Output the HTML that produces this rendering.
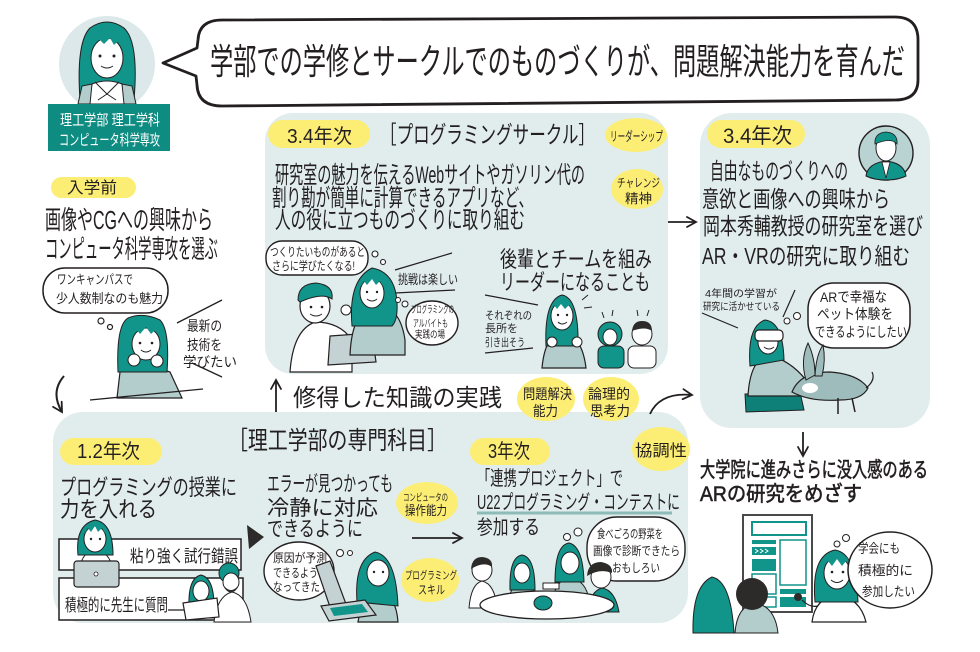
<!DOCTYPE html>
<html><head><meta charset="utf-8">
<style>
html,body{margin:0;padding:0;background:#fff;}
svg{display:block;}
text{font-family:"Liberation Sans","Noto Sans CJK JP",sans-serif;fill:#231f20;}
.w text{fill:#fff;}
</style></head><body>
<svg width="980" height="652" viewBox="0 0 980 652" xmlns="http://www.w3.org/2000/svg">
<defs>
<marker id="ah" viewBox="0 0 12 12" refX="10" refY="6" markerWidth="12" markerHeight="12" markerUnits="userSpaceOnUse" orient="auto">
<path d="M1 1 L10 6 L1 11" fill="none" stroke="#231f20" stroke-width="1.8" stroke-linecap="round"/>
</marker>
</defs>
<rect width="980" height="652" fill="#fff"/>

<!-- Panels -->
<rect x="265" y="113" width="403" height="261" rx="28" fill="#e1eded"/>
<rect x="700" y="113" width="230" height="315" rx="32" fill="#e1eded"/>
<rect x="53" y="412" width="635" height="211" rx="30" fill="#e1eded"/>

<!-- Avatar -->
<circle cx="107" cy="64" r="48" fill="#dce8e9"/>
<path d="M80 100 Q76 42 90 28 Q107 16 124 28 Q139 42 134 100 Z" fill="#11948a" stroke="#231f20" stroke-width="1"/>
<path d="M88 104 L92 84 Q107 78 122 84 L126 104 Z" fill="#fff" stroke="#231f20" stroke-width="1"/>
<path d="M78 104 L82 86 L92 84 L90 104 Z M136 104 L132 86 L122 84 L124 104 Z" fill="#b2cdcc" stroke="#231f20" stroke-width="1"/>
<path d="M95 82 L107 94 L119 82 M107 94 L98 100 M107 94 L116 100" fill="none" stroke="#231f20" stroke-width="1"/>
<ellipse cx="107" cy="58" rx="16" ry="20" fill="#fff" stroke="#231f20" stroke-width="1"/>
<path d="M91 46 Q92 30 107 29 Q122 30 123 46 L119 40 L114 45 L110 38 L104 44 L99 39 L94 45 Z" fill="#11948a"/>
<circle cx="100" cy="56" r="1.5" fill="#231f20"/><circle cx="114" cy="56" r="1.5" fill="#231f20"/>
<path d="M101 66 Q107 70 113 66" fill="none" stroke="#231f20" stroke-width="1"/>

<!-- Label -->
<rect x="48" y="104" width="122" height="47" fill="#0f8c82"/>
<g class="w">
<text x="60" y="125" font-size="15" textLength="100" lengthAdjust="spacingAndGlyphs">理工学部 理工学科</text>
<text x="59" y="145" font-size="15" textLength="101" lengthAdjust="spacingAndGlyphs">コンピュータ科学専攻</text>
</g>

<!-- Title bubble -->
<path d="M222 20 L895 17 Q918 17 918 40 L918 80 Q918 100 895 100 L222 106 Q198 106 197 85 L196 76 L163 63 L197 48 L198 40 Q199 20 222 20 Z" fill="#fff" stroke="#231f20" stroke-width="2.8" stroke-linejoin="round"/>
<text x="210" y="74" font-size="36" textLength="695" lengthAdjust="spacingAndGlyphs">学部での学修とサークルでのものづくりが、問題解決能力を育んだ</text>

<!-- 入学前 -->
<rect x="51" y="177" width="85" height="21" rx="10.5" fill="#fcee75"/>
<text x="67" y="193" font-size="16" textLength="50" lengthAdjust="spacingAndGlyphs">入学前</text>
<text x="45" y="229" font-size="26" textLength="168" lengthAdjust="spacingAndGlyphs">画像やCGへの興味から</text>
<text x="45" y="258" font-size="26" textLength="173" lengthAdjust="spacingAndGlyphs">コンピュータ科学専攻を選ぶ</text>
<rect x="43" y="268" width="125" height="45" rx="22" fill="#fff" stroke="#231f20" stroke-width="1.5"/>
<text x="57" y="284" font-size="13" textLength="76" lengthAdjust="spacingAndGlyphs">ワンキャンパスで</text>
<text x="56" y="303" font-size="13" textLength="107" lengthAdjust="spacingAndGlyphs">少人数制なのも魅力</text>
<circle cx="101" cy="321" r="3" fill="#fff" stroke="#231f20" stroke-width="1.2"/>
<circle cx="110" cy="327" r="2.5" fill="#fff" stroke="#231f20" stroke-width="1.2"/>
<!-- chin girl -->
<path d="M117 398 L120 372 Q143 362 170 372 L182 398 Z" fill="#b2cdcc" stroke="#231f20" stroke-width="1.2"/>
<path d="M118 372 Q116 325 128 318 Q143 312 160 320 Q170 330 167 372 Z" fill="#11948a" stroke="#231f20" stroke-width="1"/>
<ellipse cx="146" cy="344" rx="14" ry="16" fill="#fff" stroke="#231f20" stroke-width="1"/>
<path d="M132 335 Q133 322 146 322 Q160 322 160 335 L156 329 L151 334 L146 327 L140 334 L136 329 Z" fill="#11948a"/>
<circle cx="140" cy="343" r="1.3" fill="#231f20"/><circle cx="152" cy="343" r="1.3" fill="#231f20"/>
<circle cx="134" cy="360" r="6" fill="#fff" stroke="#231f20" stroke-width="1"/>
<circle cx="157" cy="361" r="6" fill="#fff" stroke="#231f20" stroke-width="1"/>
<path d="M141 350 Q146 354 151 350" fill="none" stroke="#231f20" stroke-width="1"/>
<line x1="90" y1="400" x2="203" y2="389" stroke="#231f20" stroke-width="1.3"/>
<line x1="177" y1="323" x2="222" y2="300" stroke="#231f20" stroke-width="1.3"/>
<line x1="192" y1="363" x2="222" y2="377" stroke="#231f20" stroke-width="1.3"/>
<text x="187" y="331" font-size="14" textLength="35" lengthAdjust="spacingAndGlyphs">最新の</text>
<text x="187" y="350" font-size="14" textLength="35" lengthAdjust="spacingAndGlyphs">技術を</text>
<text x="183" y="367" font-size="14" textLength="54" lengthAdjust="spacingAndGlyphs">学びたい</text>
<!-- curved arrow down -->
<path d="M64 376 Q50 392 62 412" fill="none" stroke="#231f20" stroke-width="2" marker-end="url(#ah)"/>

<!-- Top panel -->
<rect x="268" y="120" width="102" height="28" rx="14" fill="#fcee75"/>
<text x="287" y="143" font-size="20" textLength="65" lengthAdjust="spacingAndGlyphs">3.4年次</text>
<text x="380" y="143" font-size="24" textLength="215" lengthAdjust="spacingAndGlyphs">［プログラミングサークル］</text>
<ellipse cx="636" cy="135" rx="31" ry="17" fill="#fcee75"/>
<text x="610" y="141" font-size="13" textLength="53" lengthAdjust="spacingAndGlyphs">リーダーシップ</text>
<ellipse cx="637" cy="189" rx="26" ry="20" fill="#fcee75"/>
<text x="617" y="187" font-size="12" textLength="43" lengthAdjust="spacingAndGlyphs">チャレンジ</text>
<text x="625" y="203" font-size="13" textLength="27" lengthAdjust="spacingAndGlyphs">精神</text>
<text x="275" y="183" font-size="24" textLength="310" lengthAdjust="spacingAndGlyphs">研究室の魅力を伝えるWebサイトやガソリン代の</text>
<text x="272" y="206" font-size="24" textLength="261" lengthAdjust="spacingAndGlyphs">割り勘が簡単に計算できるアプリなど、</text>
<text x="275" y="228" font-size="24" textLength="250" lengthAdjust="spacingAndGlyphs">人の役に立つものづくりに取り組む</text>
<rect x="266" y="241" width="102" height="34" rx="16" fill="#fff" stroke="#231f20" stroke-width="1.4"/>
<text x="270" y="256" font-size="12" textLength="95" lengthAdjust="spacingAndGlyphs">つくりたいものがあると</text>
<text x="272" y="270" font-size="12" textLength="83" lengthAdjust="spacingAndGlyphs">さらに学びたくなる!</text>
<circle cx="375" cy="254" r="3" fill="#fff" stroke="#231f20" stroke-width="1.1"/>
<circle cx="383" cy="262" r="2.5" fill="#fff" stroke="#231f20" stroke-width="1.1"/>
<!-- man at laptop -->
<path d="M290 372 Q293 330 315 322 Q340 322 352 340 L352 372 Z" fill="#fff" stroke="#231f20" stroke-width="1.2"/>
<ellipse cx="315" cy="306" rx="15" ry="17" fill="#fff" stroke="#231f20" stroke-width="1.2"/>
<path d="M298 300 Q298 284 316 283 Q334 285 332 299 Q322 292 300 302 Z" fill="#11948a" stroke="#231f20" stroke-width="1"/>
<circle cx="311" cy="307" r="1.3" fill="#231f20"/><circle cx="322" cy="307" r="1.3" fill="#231f20"/>
<path d="M310 314 Q316 318 322 314" fill="none" stroke="#231f20" stroke-width="1"/>
<polygon points="330,336 372,333 376,362 328,365" fill="#c5d2d4" stroke="#231f20" stroke-width="1.2"/>
<!-- woman pointing -->
<path d="M350 355 Q352 310 375 305 Q400 305 405 340 L405 355 Z" fill="#b2cdcc" stroke="#231f20" stroke-width="1.2"/>
<path d="M352 326 Q348 280 372 268 Q395 272 397 302 Q398 320 392 326 Z" fill="#11948a" stroke="#231f20" stroke-width="1"/>
<ellipse cx="372" cy="293" rx="12" ry="15" fill="#fff" stroke="#231f20" stroke-width="1"/>
<path d="M361 286 Q362 277 372 276 Q383 277 383 286 L380 281 L376 285 L372 279 L367 285 L364 281 Z" fill="#11948a"/>
<circle cx="367" cy="292" r="1.2" fill="#231f20"/><circle cx="377" cy="292" r="1.2" fill="#231f20"/>
<path d="M367 299 Q372 303 377 299" fill="none" stroke="#231f20" stroke-width="1"/>
<circle cx="346" cy="310" r="5" fill="#fff" stroke="#231f20" stroke-width="1"/>
<line x1="395" y1="270" x2="452" y2="253" stroke="#231f20" stroke-width="1.2"/>
<line x1="395" y1="293" x2="455" y2="290" stroke="#231f20" stroke-width="1.2"/>
<text x="398" y="284" font-size="13" textLength="60" lengthAdjust="spacingAndGlyphs">挑戦は楽しい</text>
<circle cx="398" cy="300" r="2.5" fill="#fff" stroke="#231f20" stroke-width="1"/>
<circle cx="405" cy="304" r="3" fill="#fff" stroke="#231f20" stroke-width="1"/>
<ellipse cx="432" cy="323" rx="26" ry="22" fill="#fff" stroke="#231f20" stroke-width="1.4"/>
<text x="411" y="313" font-size="10" textLength="43" lengthAdjust="spacingAndGlyphs">プログラミングの</text>
<text x="413" y="327" font-size="10" textLength="35" lengthAdjust="spacingAndGlyphs">アルバイトも</text>
<text x="415" y="338" font-size="10" textLength="30" lengthAdjust="spacingAndGlyphs">実践の場</text>
<text x="500" y="267" font-size="22" textLength="152" lengthAdjust="spacingAndGlyphs">後輩とチームを組み</text>
<text x="500" y="290" font-size="22" textLength="150" lengthAdjust="spacingAndGlyphs">リーダーになることも</text>
<line x1="485" y1="295" x2="538" y2="305" stroke="#231f20" stroke-width="1.2"/>
<line x1="485" y1="353" x2="533" y2="348" stroke="#231f20" stroke-width="1.2"/>
<text x="485" y="319" font-size="11" textLength="47" lengthAdjust="spacingAndGlyphs">それぞれの</text>
<text x="485" y="332" font-size="11" textLength="33" lengthAdjust="spacingAndGlyphs">長所を</text>
<text x="485" y="346" font-size="11" textLength="40" lengthAdjust="spacingAndGlyphs">引き出そう</text>
<!-- cheering woman -->
<path d="M542 368 Q545 335 562 332 Q582 335 586 368 Z" fill="#b2cdcc" stroke="#231f20" stroke-width="1.2"/>
<path d="M546 346 Q544 300 562 295 Q579 298 578 346 Z" fill="#11948a" stroke="#231f20" stroke-width="1"/>
<ellipse cx="562" cy="316" rx="11" ry="14" fill="#fff" stroke="#231f20" stroke-width="1"/>
<path d="M552 309 Q553 301 562 301 Q572 301 572 309 L569 305 L565 309 L561 304 L557 309 L554 305 Z" fill="#11948a"/>
<circle cx="558" cy="315" r="1.2" fill="#231f20"/><circle cx="567" cy="315" r="1.2" fill="#231f20"/>
<path d="M558 322 Q562 326 567 322" fill="none" stroke="#231f20" stroke-width="1"/>
<circle cx="552" cy="342" r="5" fill="#fff" stroke="#231f20" stroke-width="1"/>
<circle cx="577" cy="342" r="5" fill="#fff" stroke="#231f20" stroke-width="1"/>
<path d="M582 300 L588 295 M584 308 L592 307" stroke="#231f20" stroke-width="1"/>
<!-- kids -->
<rect x="598" y="346" width="26" height="22" rx="6" fill="#11948a" stroke="#231f20" stroke-width="1"/>
<circle cx="610" cy="334" r="12" fill="#11948a" stroke="#231f20" stroke-width="1"/>
<ellipse cx="610" cy="337" rx="7" ry="8" fill="#fff" stroke="#231f20" stroke-width="1"/>
<rect x="628" y="346" width="28" height="22" rx="6" fill="#fff" stroke="#231f20" stroke-width="1"/>
<ellipse cx="642" cy="334" rx="10" ry="11" fill="#fff" stroke="#231f20" stroke-width="1"/>
<path d="M632 331 Q633 321 642 321 Q652 321 652 331 Q645 326 632 331 Z" fill="#2d2a2a"/>
<path d="M604 318 L602 312 M612 316 L613 310 M638 316 L637 310 M647 316 L649 310" stroke="#231f20" stroke-width="1"/>

<!-- arrow to right panel -->
<line x1="668" y1="222" x2="696" y2="222" stroke="#231f20" stroke-width="1.8" marker-end="url(#ah)"/>

<!-- Right panel -->
<rect x="707" y="120" width="98" height="28" rx="14" fill="#fcee75"/>
<text x="723" y="143" font-size="21" textLength="69" lengthAdjust="spacingAndGlyphs">3.4年次</text>
<circle cx="886" cy="153" r="27" fill="#b9d2d2" stroke="#231f20" stroke-width="1.4"/>
<path d="M866 176 Q868 163 886 161 Q904 163 906 176 Q898 180 886 180 Q874 180 866 176 Z" fill="#11948a" stroke="#231f20" stroke-width="1"/>
<path d="M882 162 L886 178 L890 162 Z" fill="#fff" stroke="#231f20" stroke-width="0.8"/>
<ellipse cx="886" cy="148" rx="10" ry="13" fill="#fff" stroke="#231f20" stroke-width="1"/>
<path d="M875 144 Q874 133 886 132 Q898 133 897 144 Q891 137 875 144 Z" fill="#11948a" stroke="#231f20" stroke-width="0.8"/>
<text x="710" y="179" font-size="23" textLength="138" lengthAdjust="spacingAndGlyphs">自由なものづくりへの</text>
<text x="702" y="207" font-size="23" textLength="188" lengthAdjust="spacingAndGlyphs">意欲と画像への興味から</text>
<text x="703" y="234" font-size="23" textLength="220" lengthAdjust="spacingAndGlyphs">岡本秀輔教授の研究室を選び</text>
<text x="702" y="264" font-size="23" textLength="208" lengthAdjust="spacingAndGlyphs">AR・VRの研究に取り組む</text>
<text x="705" y="297" font-size="10" textLength="72" lengthAdjust="spacingAndGlyphs">4年間の学習が</text>
<text x="703" y="310" font-size="10" textLength="77" lengthAdjust="spacingAndGlyphs">研究に活かせている</text>
<line x1="702" y1="313" x2="738" y2="328" stroke="#231f20" stroke-width="1.2"/>
<line x1="795" y1="290" x2="783" y2="317" stroke="#231f20" stroke-width="1.2"/>
<circle cx="787" cy="321" r="3" fill="#fff" stroke="#231f20" stroke-width="1"/>
<circle cx="797" cy="316" r="3.5" fill="#fff" stroke="#231f20" stroke-width="1"/>
<rect x="808" y="283" width="102" height="65" rx="26" fill="#fff" stroke="#231f20" stroke-width="1.5"/>
<text x="820" y="302" font-size="14" textLength="67" lengthAdjust="spacingAndGlyphs">ARで幸福な</text>
<text x="817" y="319" font-size="14" textLength="76" lengthAdjust="spacingAndGlyphs">ペット体験を</text>
<text x="815" y="337" font-size="14" textLength="92" lengthAdjust="spacingAndGlyphs">できるようにしたい</text>
<!-- VR woman + dog -->
<path d="M745 394 L800 392 L804 410 L746 412 Z" fill="#0f8077" stroke="#231f20" stroke-width="1"/>
<path d="M748 396 Q750 360 768 355 Q790 360 806 380 L800 396 Z" fill="#b2cdcc" stroke="#231f20" stroke-width="1.2"/>
<path d="M750 366 Q747 326 765 320 Q783 322 784 360 Z" fill="#11948a" stroke="#231f20" stroke-width="1"/>
<ellipse cx="768" cy="342" rx="10" ry="12" fill="#fff" stroke="#231f20" stroke-width="1"/>
<rect x="755" y="330" width="28" height="11" rx="4" fill="#fff" stroke="#231f20" stroke-width="1.2"/>
<path d="M764 347 Q769 351 774 347" fill="none" stroke="#231f20" stroke-width="1"/>
<path d="M792 392 Q800 372 830 372 Q858 374 868 388 Q862 400 840 400 Q810 402 792 392 Z" fill="#9dbcbb" stroke="#231f20" stroke-width="1.2"/>
<path d="M806 380 Q800 360 808 343 Q815 358 815 375 Z M815 376 Q816 355 823 345 Q826 360 822 376 Z" fill="#9dbcbb" stroke="#231f20" stroke-width="1"/>
<path d="M866 388 Q876 380 872 372" fill="none" stroke="#231f20" stroke-width="1.2"/>
<path d="M838 398 L838 414 M852 398 L855 412" stroke="#231f20" stroke-width="1.5"/>
<ellipse cx="810" cy="388" rx="8" ry="5" fill="#fff"/>

<!-- down arrow -->
<line x1="803" y1="432" x2="803" y2="456" stroke="#231f20" stroke-width="1.8" marker-end="url(#ah)"/>
<text x="700" y="477" font-size="21" stroke="#231f20" stroke-width="0.6" textLength="228" lengthAdjust="spacingAndGlyphs">大学院に進みさらに没入感のある</text>
<text x="700" y="501" font-size="21" stroke="#231f20" stroke-width="0.6" textLength="162" lengthAdjust="spacingAndGlyphs">ARの研究をめざす</text>
<!-- poster -->
<rect x="743" y="515" width="69" height="97" fill="#fff" stroke="#4a4a4a" stroke-width="2"/>
<rect x="752" y="522" width="54" height="13" fill="none" stroke="#11948a" stroke-width="2"/>
<rect x="752" y="540" width="24" height="4" fill="#11948a"/>
<rect x="752" y="547" width="24" height="8" fill="#11948a"/>
<path d="M755 549 L758 551 L755 553 M760 549 L763 551 L760 553 M765 549 L768 551 L765 553" stroke="#fff" stroke-width="1" fill="none"/>
<rect x="752" y="559" width="24" height="12" fill="#11948a"/>
<rect x="752" y="574" width="24" height="20" fill="none" stroke="#11948a" stroke-width="1.5"/>
<rect x="752" y="597" width="24" height="10" fill="none" stroke="#11948a" stroke-width="1.5"/>
<rect x="780" y="540" width="26" height="45" fill="none" stroke="#11948a" stroke-width="1.5"/>
<rect x="780" y="589" width="26" height="5" fill="#11948a"/>
<rect x="780" y="597" width="26" height="10" fill="#11948a"/>
<!-- presenter -->
<path d="M812 622 Q815 598 837 595 Q860 598 866 622 Z" fill="#fff" stroke="#231f20" stroke-width="1.2"/>
<path d="M815 602 Q811 555 835 550 Q856 553 858 602 Z" fill="#11948a" stroke="#231f20" stroke-width="1"/>
<ellipse cx="837" cy="573" rx="13" ry="16" fill="#fff" stroke="#231f20" stroke-width="1"/>
<path d="M824 566 Q825 555 837 554 Q850 555 850 566 L846 561 L842 566 L837 559 L832 566 L828 561 Z" fill="#11948a"/>
<circle cx="832" cy="572" r="1.3" fill="#231f20"/><circle cx="843" cy="572" r="1.3" fill="#231f20"/>
<path d="M831 580 Q837 585 843 580" fill="none" stroke="#231f20" stroke-width="1"/>
<circle cx="798" cy="597" r="4" fill="#2d2a2a"/>
<path d="M802 600 Q810 608 818 606" fill="none" stroke="#231f20" stroke-width="1.2"/>
<ellipse cx="890" cy="570" rx="42" ry="38" fill="#fff" stroke="#231f20" stroke-width="1.5"/>
<text x="858" y="553" font-size="13" textLength="42" lengthAdjust="spacingAndGlyphs">学会にも</text>
<text x="858" y="575" font-size="13" textLength="55" lengthAdjust="spacingAndGlyphs">積極的に</text>
<text x="862" y="596" font-size="13" textLength="53" lengthAdjust="spacingAndGlyphs">参加したい</text>
<circle cx="837" cy="544" r="3" fill="#fff" stroke="#231f20" stroke-width="1"/>
<circle cx="846" cy="538" r="3.5" fill="#fff" stroke="#231f20" stroke-width="1"/>
<!-- audience -->
<path d="M693 633 Q692 586 712 577 Q731 581 734 633 Z" fill="#11948a" stroke="#231f20" stroke-width="1"/>
<path d="M735 633 Q737 606 755 603 Q775 606 778 633 Z" fill="#b2cdcc" stroke="#231f20" stroke-width="1"/>
<circle cx="752" cy="594" r="16" fill="#2d2a2a"/>

<!-- 修得した知識の実践 -->
<line x1="276" y1="412" x2="276" y2="380" stroke="#231f20" stroke-width="1.8" marker-end="url(#ah)"/>
<text x="293" y="406" font-size="24" textLength="209" lengthAdjust="spacingAndGlyphs">修得した知識の実践</text>
<ellipse cx="546" cy="399" rx="29" ry="22" fill="#fcee75"/>
<text x="523" y="399" font-size="14" textLength="49" lengthAdjust="spacingAndGlyphs">問題解決</text>
<text x="533" y="416" font-size="14" textLength="25" lengthAdjust="spacingAndGlyphs">能力</text>
<ellipse cx="611" cy="399" rx="28" ry="22" fill="#fcee75"/>
<text x="588" y="399" font-size="14" textLength="42" lengthAdjust="spacingAndGlyphs">論理的</text>
<text x="590" y="416" font-size="14" textLength="40" lengthAdjust="spacingAndGlyphs">思考力</text>
<path d="M650 414 Q660 392 692 395" fill="none" stroke="#231f20" stroke-width="1.8" marker-end="url(#ah)"/>

<!-- Bottom panel -->
<text x="228" y="449" font-size="25" textLength="219" lengthAdjust="spacingAndGlyphs">［理工学部の専門科目］</text>
<rect x="60" y="438" width="102" height="27" rx="13.5" fill="#fcee75"/>
<text x="77" y="458" font-size="20" textLength="63" lengthAdjust="spacingAndGlyphs">1.2年次</text>
<text x="60" y="495" font-size="22" textLength="177" lengthAdjust="spacingAndGlyphs">プログラミングの授業に</text>
<text x="60" y="517" font-size="22" textLength="97" lengthAdjust="spacingAndGlyphs">力を入れる</text>
<rect x="59" y="539" width="182" height="31" fill="#fff" stroke="#231f20" stroke-width="1.5"/>
<text x="130" y="562" font-size="17" textLength="108" lengthAdjust="spacingAndGlyphs">粘り強く試行錯誤</text>
<rect x="59" y="578" width="184" height="42" fill="#fff" stroke="#231f20" stroke-width="1.5"/>
<text x="65" y="611" font-size="17" textLength="103" lengthAdjust="spacingAndGlyphs">積極的に先生に質問</text>
<line x1="168" y1="610" x2="186" y2="610" stroke="#231f20" stroke-width="1.2"/>
<!-- girl at laptop -->
<path d="M80 568 Q82 552 95 550 Q110 552 112 568 Z" fill="#fff" stroke="#231f20" stroke-width="1"/>
<path d="M78 555 Q75 525 95 520 Q113 523 113 555 Z" fill="#11948a" stroke="#231f20" stroke-width="1"/>
<ellipse cx="95" cy="539" rx="11" ry="13" fill="#fff" stroke="#231f20" stroke-width="1"/>
<path d="M85 533 Q86 524 95 524 Q105 524 105 533 L102 528 L98 532 L95 526 L91 532 L88 528 Z" fill="#11948a"/>
<circle cx="91" cy="539" r="1.2" fill="#231f20"/><circle cx="100" cy="539" r="1.2" fill="#231f20"/>
<rect x="74" y="561" width="45" height="26" rx="3" fill="#c5d2d4" stroke="#231f20" stroke-width="1.2"/>
<circle cx="96" cy="574" r="2" fill="#fff" stroke="#231f20" stroke-width="0.8"/>
<!-- teacher & student -->
<path d="M214 622 Q217 596 232 592 Q247 595 251 622 Z" fill="#fff" stroke="#231f20" stroke-width="1"/>
<circle cx="229" cy="573" r="10" fill="#11948a" stroke="#231f20" stroke-width="1"/>
<ellipse cx="231" cy="582" rx="8" ry="9" fill="#fff" stroke="#231f20" stroke-width="1"/>
<path d="M225 587 Q231 593 237 587 L236 590 Q231 595 226 590 Z" fill="#2d2a2a"/>
<path d="M187 618 Q189 600 201 598 Q213 600 214 618 Z" fill="#11948a" stroke="#231f20" stroke-width="1"/>
<path d="M189 606 Q188 578 201 575 Q214 578 214 606 Z" fill="#11948a" stroke="#231f20" stroke-width="1"/>
<ellipse cx="201" cy="591" rx="8" ry="10" fill="#fff" stroke="#231f20" stroke-width="1"/>
<polygon points="183,603 217,598 219,617 186,620" fill="#fff" stroke="#231f20" stroke-width="1.2"/>
<!-- triangle -->
<polygon points="247,525 264,537 249,549" fill="#2d2a2a"/>
<text x="267" y="491" font-size="21" textLength="126" lengthAdjust="spacingAndGlyphs">エラーが見つかっても</text>
<text x="267" y="515" font-size="21" textLength="111" lengthAdjust="spacingAndGlyphs">冷静に対応</text>
<text x="267" y="536" font-size="21" textLength="96" lengthAdjust="spacingAndGlyphs">できるように</text>
<ellipse cx="427" cy="503" rx="31" ry="21" fill="#fcee75"/>
<text x="403" y="501" font-size="10" textLength="45" lengthAdjust="spacingAndGlyphs">コンピュータの</text>
<text x="405" y="515" font-size="13" textLength="42" lengthAdjust="spacingAndGlyphs">操作能力</text>
<line x1="412" y1="538" x2="462" y2="538" stroke="#231f20" stroke-width="1.8" marker-end="url(#ah)"/>
<ellipse cx="430" cy="580" rx="29" ry="22" fill="#fcee75"/>
<text x="405" y="579" font-size="11" textLength="52" lengthAdjust="spacingAndGlyphs">プログラミング</text>
<text x="418" y="594" font-size="12" textLength="27" lengthAdjust="spacingAndGlyphs">スキル</text>
<ellipse cx="299" cy="571" rx="35" ry="29" fill="#fff" stroke="#231f20" stroke-width="1.4"/>
<text x="273" y="562" font-size="12" textLength="54" lengthAdjust="spacingAndGlyphs">原因が予測</text>
<text x="273" y="577" font-size="12" textLength="54" lengthAdjust="spacingAndGlyphs">できるように</text>
<text x="273" y="591" font-size="12" textLength="47" lengthAdjust="spacingAndGlyphs">なってきた</text>
<circle cx="340" cy="553" r="3.5" fill="#fff" stroke="#231f20" stroke-width="1"/>
<circle cx="350" cy="553" r="2.5" fill="#fff" stroke="#231f20" stroke-width="1"/>
<!-- woman at laptop bottom -->
<path d="M358 622 Q362 595 378 592 Q396 594 398 622 Z" fill="#b2cdcc" stroke="#231f20" stroke-width="1.2"/>
<path d="M357 602 Q354 560 375 552 Q396 556 398 606 Z" fill="#11948a" stroke="#231f20" stroke-width="1"/>
<ellipse cx="378" cy="573" rx="11" ry="13" fill="#fff" stroke="#231f20" stroke-width="1"/>
<circle cx="374" cy="572" r="1.2" fill="#231f20"/><circle cx="383" cy="572" r="1.2" fill="#231f20"/>
<polygon points="316,566 330,561 346,604 331,610" fill="#c5d2d4" stroke="#231f20" stroke-width="1.2"/>
<polygon points="321,606 365,600 376,615 329,621" fill="#c5d2d4" stroke="#231f20" stroke-width="1.2"/>
<polygon points="330,608 362,604 368,612 334,616" fill="#11948a"/>
<!-- 3年次 -->
<rect x="470" y="438" width="80" height="27" rx="13.5" fill="#fcee75"/>
<text x="488" y="458" font-size="20" textLength="42" lengthAdjust="spacingAndGlyphs">3年次</text>
<text x="477" y="485" font-size="20" textLength="146" lengthAdjust="spacingAndGlyphs">「連携プロジェクト」で</text>
<line x1="477" y1="513" x2="672" y2="513" stroke="#8dbcb8" stroke-width="3"/>
<text x="477" y="509" font-size="20" textLength="203" lengthAdjust="spacingAndGlyphs">U22プログラミング・コンテストに</text>
<text x="477" y="534" font-size="20" textLength="63" lengthAdjust="spacingAndGlyphs">参加する</text>
<ellipse cx="661" cy="449" rx="29" ry="22" fill="#fcee75"/>
<text x="635" y="456" font-size="16" textLength="52" lengthAdjust="spacingAndGlyphs">協調性</text>
<rect x="587" y="517" width="98" height="64" rx="30" fill="#fff" stroke="#231f20" stroke-width="1.4"/>
<text x="597" y="538" font-size="12" textLength="66" lengthAdjust="spacingAndGlyphs">食べごろの野菜を</text>
<text x="593" y="555" font-size="12" textLength="87" lengthAdjust="spacingAndGlyphs">画像で診断できたら</text>
<text x="612" y="572" font-size="12" textLength="48" lengthAdjust="spacingAndGlyphs">おもしろい</text>
<circle cx="567" cy="537" r="3.5" fill="#fff" stroke="#231f20" stroke-width="1"/>
<circle cx="578" cy="532" r="4" fill="#fff" stroke="#231f20" stroke-width="1"/>
<!-- group at table -->
<path d="M469 608 Q471 584 482 581 Q495 584 497 608 Z" fill="#fff" stroke="#231f20" stroke-width="1"/>
<ellipse cx="482" cy="570" rx="10" ry="11" fill="#fff" stroke="#231f20" stroke-width="1"/>
<path d="M471 569 Q472 557 482 557 Q493 558 492 567 Q484 561 471 569 Z" fill="#2d2a2a"/>
<path d="M509 600 Q511 584 522 582 Q534 584 536 600 Z" fill="#b2cdcc" stroke="#231f20" stroke-width="1"/>
<path d="M510 590 Q509 557 522 555 Q535 557 535 590 Z" fill="#11948a" stroke="#231f20" stroke-width="1"/>
<ellipse cx="522" cy="573" rx="8" ry="10" fill="#fff" stroke="#231f20" stroke-width="1"/>
<path d="M553 600 Q555 580 570 578 Q586 580 589 600 Z" fill="#b2cdcc" stroke="#231f20" stroke-width="1"/>
<path d="M555 582 Q555 545 569 543 Q583 546 584 582 Z" fill="#11948a" stroke="#231f20" stroke-width="1"/>
<ellipse cx="570" cy="563" rx="9" ry="11" fill="#fff" stroke="#231f20" stroke-width="1"/>
<rect x="543" y="583" width="16" height="6" fill="#fff" stroke="#231f20" stroke-width="1"/>
<path d="M588 612 Q590 591 602 588 Q615 590 619 612 Z" fill="#11948a" stroke="#231f20" stroke-width="1"/>
<ellipse cx="601" cy="577" rx="10" ry="11" fill="#fff" stroke="#231f20" stroke-width="1"/>
<path d="M587 576 Q588 562 601 562 Q613 564 612 573 Q600 568 587 576 Z" fill="#2d2a2a"/>
<ellipse cx="547" cy="605" rx="67" ry="14" fill="#fff" stroke="#231f20" stroke-width="1.3"/>
<ellipse cx="543" cy="603" rx="9" ry="7" fill="#11948a" stroke="#231f20" stroke-width="1"/>
</svg>
</body></html>
